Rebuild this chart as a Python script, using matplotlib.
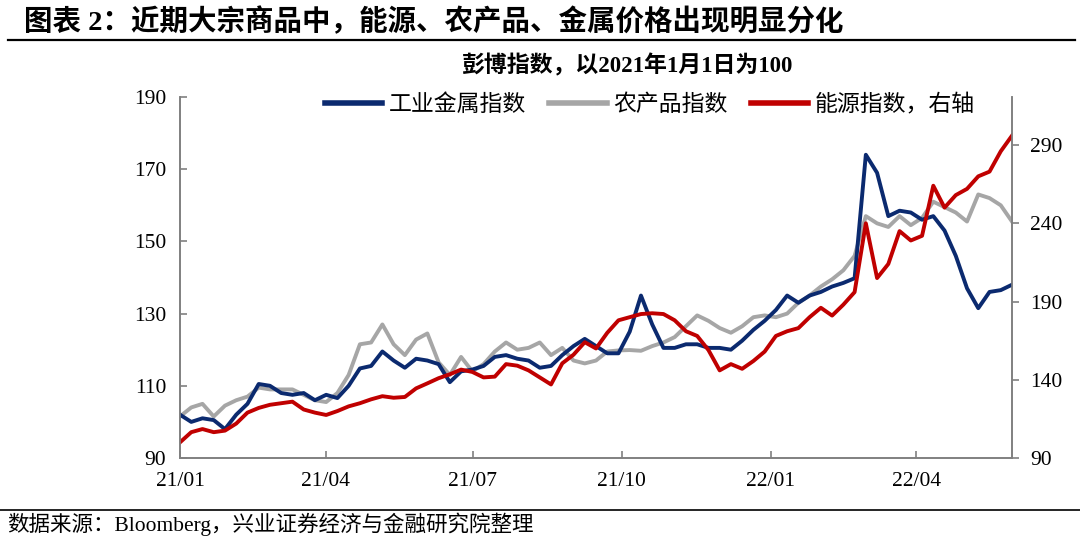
import matplotlib
matplotlib.use('Agg')
import matplotlib.pyplot as plt
from matplotlib.lines import Line2D
import pandas as pd

plt.rcParams['font.family'] = ['Liberation Serif', 'Noto Sans CJK SC']

# weekly samples, 2021-01-01 .. 2022-05-30
dates = pd.date_range('2021-01-01', '2022-05-30', periods=75)

metals = [102, 100, 101, 100.5, 98, 102, 105, 110.5, 110, 108,
          107.5, 108, 106, 107.5, 106.6, 110, 114.8, 115.5, 119.5, 117,
          115, 117.5, 117, 116, 111, 114, 114.5, 115.5, 118, 118.5,
          117.5, 117, 115, 115.5, 118.5, 121, 123, 121, 119, 119,
          125, 135, 127, 120.5, 120.5, 121.5, 121.5, 120.5, 120.5, 120,
          122.5, 125.5, 128, 131, 135, 133, 135, 136, 137.5, 138.5,
          139.8, 174, 169, 157, 158.5, 158, 156, 157, 153, 146,
          137, 131.5, 136, 136.5, 138]

agri = [101.5, 104, 105, 101.5, 104.5, 106, 107, 109.5, 109, 109,
        109, 107.5, 106, 105.5, 108, 113, 121.5, 122, 127, 121.5,
        118.5, 122.8, 124.5, 116.5, 113, 118, 114, 116, 119.5, 122,
        120, 120.5, 122, 118.5, 120.5, 117, 116.2, 117, 119.5, 119.8,
        119.9, 119.7, 121, 122, 123.5, 126.5, 129.5, 128, 126, 124.7,
        126.5, 129, 129.5, 129, 130, 133, 135, 137.5, 139.5, 142,
        146, 157, 155, 154, 157, 154.5, 156.5, 161, 159.5, 158,
        155.5, 163, 162, 160, 155.5]

energy = [100, 106.5, 108.5, 106.5, 107.5, 112, 119, 122, 124, 125,
          126, 121, 119, 117.5, 120, 123, 125, 127.5, 129.5, 128.5,
          129, 134.5, 137.7, 141, 143.5, 146.5, 145, 141.5, 142, 150,
          149, 146, 141.5, 137, 150.5, 156, 164, 160, 170, 178,
          180, 182, 182.5, 182, 178, 171, 168, 159, 146, 150,
          147, 152, 158, 168, 171, 173, 180, 186, 181, 188,
          196, 240, 205, 214, 235, 229, 232, 264, 250, 258,
          262, 270, 273, 286, 296]

tick_dates = pd.to_datetime(['2021-01-01', '2021-04-01', '2021-07-01',
                             '2021-10-01', '2022-01-01', '2022-04-01'])
tick_labels = ['21/01', '21/04', '21/07', '21/10', '22/01', '22/04']
left_ticks = [90, 110, 130, 150, 170, 190]
right_ticks = [90, 140, 190, 240, 290]

NAVY = '#0B2A6F'
GREY = '#A6A6A6'
RED = '#C00000'
SPINE = '#808080'

fig = plt.figure(figsize=(10.8, 5.42), dpi=100)
ax = fig.add_axes([180 / 1080, 84 / 542, 832 / 1080, 361 / 542])
ax2 = ax.twinx()

l1, = ax.plot(dates, metals, color=NAVY, lw=2.8, label='工业金属指数', zorder=3)
l2, = ax.plot(dates, agri, color=GREY, lw=2.8, label='农产品指数', zorder=2)
l3, = ax2.plot(dates, energy, color=RED, lw=2.8, label='能源指数，右轴')

ax.set_xlim(dates[0], dates[-1])
ax.set_ylim(90, 190)
ax2.set_ylim(90, 320.7)
ax.set_yticks(left_ticks)
ax2.set_yticks(right_ticks)
ax.set_xticks(tick_dates)
ax.set_xticklabels(tick_labels)

for a in (ax, ax2):
    a.spines['top'].set_visible(False)
    for s in ('left', 'right', 'bottom'):
        a.spines[s].set_color(SPINE)
        a.spines[s].set_linewidth(1.2)

ax.tick_params(axis='y', direction='in', length=5, width=1.2, color=SPINE,
               labelsize=15.5, pad=10)
ax.tick_params(axis='x', direction='in', length=5, width=1.2, color=SPINE,
               labelsize=15.5, pad=10)
ax2.tick_params(axis='y', direction='out', length=5, width=1.2, color=SPINE,
                labelsize=15.5, pad=8)

leg = ax2.legend(handles=[l1, l2, l3], loc='center', bbox_to_anchor=(0.565, 0.978),
                 ncol=3, frameon=False, fontsize=16.5, handlelength=2.5,
                 handletextpad=0.3, columnspacing=1.0)
for h in leg.legend_handles:
    h.set_linewidth(4)

fig.text(0.022, 0.959, '图表 2：近期大宗商品中，能源、农产品、金属价格出现明显分化',
         fontsize=20.5, fontweight='bold', va='center', ha='left')
fig.add_artist(Line2D([8 / 1080, 1075 / 1080], [1 - 40 / 542, 1 - 40 / 542],
                      color='black', lw=1.6, transform=fig.transFigure))
fig.text(0.581, 0.878, '彭博指数，以2021年1月1日为100', fontsize=16.5,
         fontweight='bold', va='center', ha='center')
fig.add_artist(Line2D([0, 1], [1 - 510 / 542, 1 - 510 / 542],
                      color='black', lw=1.2, transform=fig.transFigure))
fig.text(0.007, 1 - 524 / 542, '数据来源：Bloomberg，兴业证券经济与金融研究院整理',
         fontsize=15.5, va='center', ha='left')

fig.savefig('out.png', dpi=100, facecolor='white')
plt.close(fig)
